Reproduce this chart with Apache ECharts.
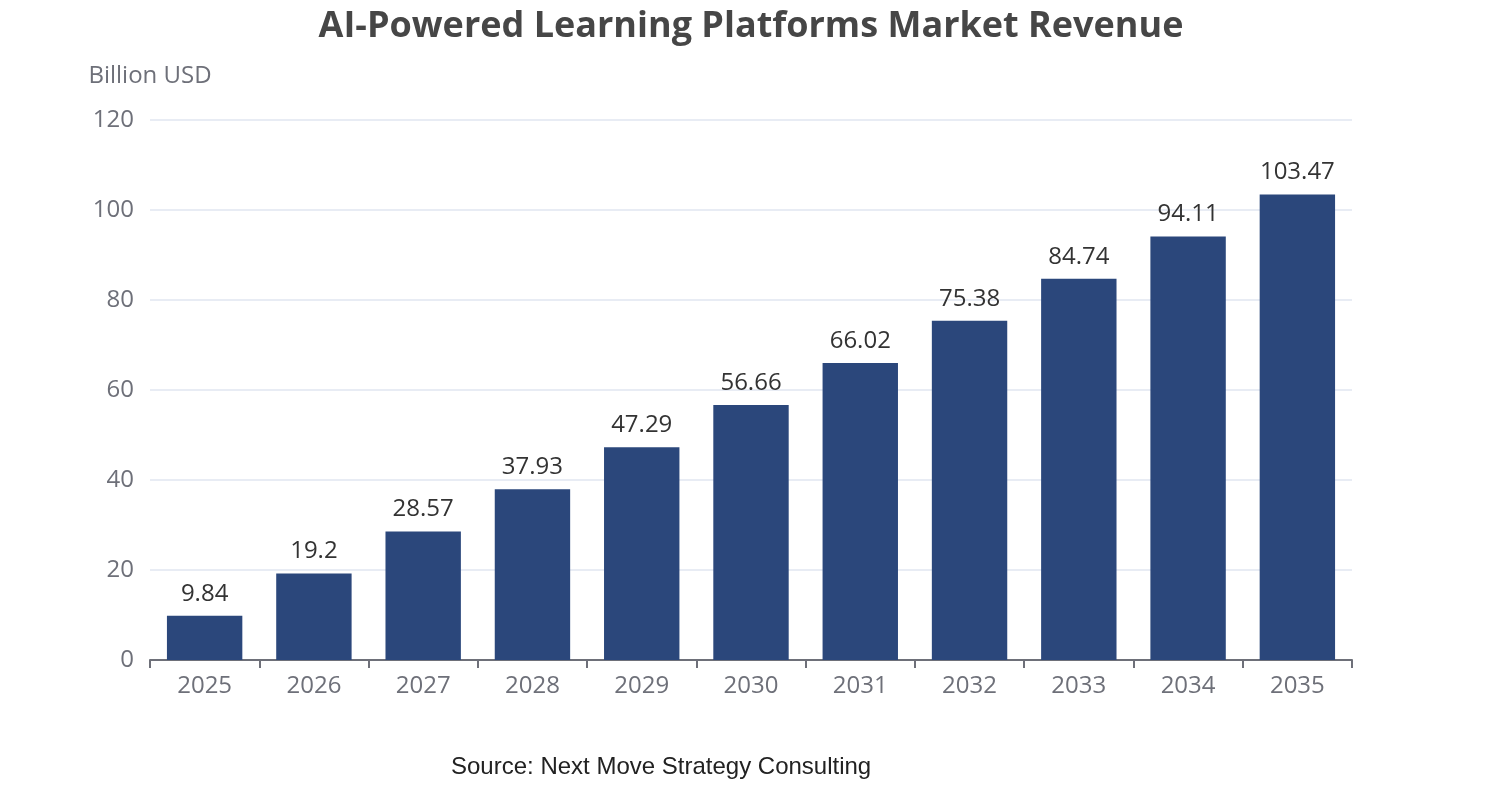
<!DOCTYPE html>
<html><head><meta charset="utf-8">
<script src="https://cdn.jsdelivr.net/npm/echarts@6/dist/echarts.min.js"></script>
<style>html,body{margin:0;padding:0;background:#fff}#c{width:1502px;height:800px}</style>
</head><body><div id="c"></div>
<script>
const years = ['2025','2026','2027','2028','2029','2030','2031','2032','2033','2034','2035'];
const revenue = [9.84, 19.2, 28.57, 37.93, 47.29, 56.66, 66.02, 75.38, 84.74, 94.11, 103.47];
const chart = echarts.init(document.getElementById('c'));
chart.setOption({
  animation: false,
  title: [{
    text: 'AI-Powered Learning Platforms Market Revenue',
    left: 'center', top: 4,
    textStyle: {fontFamily: 'Open Sans', fontSize: 36, fontWeight: 'bold', color: '#464646'}
  }, {
    text: 'Source: Next Move Strategy Consulting',
    left: 446, top: 750,
    textStyle: {fontFamily: 'Liberation Sans', fontSize: 24, fontWeight: 'normal', color: '#222'}
  }],
  grid: {left: 150, right: 150, top: 120, bottom: 140},
  xAxis: {
    type: 'category', data: years,
    axisLine: {lineStyle: {color: '#6e7079', width: 2}},
    axisTick: {show: true, length: 8, lineStyle: {color: '#6e7079', width: 2}},
    axisLabel: {fontFamily: 'Open Sans', fontSize: 24, color: '#6e7079', margin: 14}
  },
  yAxis: {
    type: 'value', min: 0, max: 120, interval: 20,
    name: 'Billion USD', nameLocation: 'end', nameGap: 32,
    nameTextStyle: {fontFamily: 'Open Sans', fontSize: 24, color: '#6e7079', align: 'center'},
    axisLabel: {fontFamily: 'Open Sans', fontSize: 24, color: '#6e7079', margin: 16},
    splitLine: {lineStyle: {color: '#e0e6f1', width: 1.5}}
  },
  series: [{
    type: 'bar', data: revenue, barWidth: '69%',
    itemStyle: {color: '#2b477b'},
    label: {show: true, position: 'top', distance: 10, fontFamily: 'Open Sans', fontSize: 24, color: '#333'}
  }]
});
</script></body></html>
